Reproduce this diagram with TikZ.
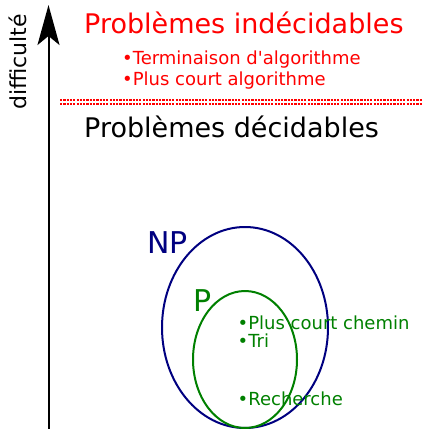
\documentclass[tikz,border=0pt]{standalone}
\usepackage{fontspec}
\setmainfont{DejaVu Sans}
\usetikzlibrary{arrows.meta,shapes.geometric}
\definecolor{navy}{RGB}{0,0,128}
\definecolor{dgreen}{RGB}{0,128,0}
\tikzset{
  big/.style={inner sep=0pt,anchor=base west,font=\fontsize{27}{32}\selectfont},
  small/.style={inner sep=0pt,anchor=base west,font=\fontsize{18}{21}\selectfont},
  setlabel/.style={inner sep=0pt,anchor=base west,font=\fontsize{30}{36}\selectfont},
  sep/.style={red,line width=2pt,dash pattern=on 2.2pt off 1.1pt},
  setshape/.style={ellipse,line width=2pt,inner sep=0pt},
}
\begin{document}
\begin{tikzpicture}[x=1pt,y=-1pt]
\useasboundingbox (0,0) rectangle (423,429);
% axis
\coordinate (abot) at (48.5,429);
\coordinate (atop) at (48.5,5);
\draw[line width=2pt,-{Stealth[length=40pt,width=22pt,inset=9pt]}] (abot) -- (atop);
\node[inner sep=0pt,anchor=base west,rotate=90,font=\fontsize{22}{27}\selectfont] (diff) at (27,110) {difficulté};
% undecidable
\node[big,red] (undec) at (84,33) {Problèmes indécidables};
\node[small,red] (u1) at (122,64) {•Terminaison d\textquotesingle algorithme};
\node[small,red] (u2) at (122,85) {•Plus court algorithme};
\coordinate (s1a) at (60,99.5);
\coordinate (s1b) at (423,99.5);
\coordinate (s2a) at (60,103.5);
\coordinate (s2b) at (423,103.5);
\draw[sep] (s1a) -- (s1b);
\draw[sep] (s2a) -- (s2b);
\node[big] (dec) at (84,137) {Problèmes décidables};
% sets
\node[setshape,draw=navy,minimum width=166pt,minimum height=201pt] (NPset) at (245,327.5) {};
\node[setshape,draw=dgreen,minimum width=104pt,minimum height=137pt] (Pset) at (245,359.5) {};
\node[setlabel,navy] (NP) at (147,253) {NP};
\node[setlabel,dgreen] (P) at (193,311) {P};
\node[small,dgreen] (p1) at (237.5,329) {•Plus court chemin};
\node[small,dgreen] (p2) at (237.5,347) {•Tri};
\node[small,dgreen] (p3) at (237.5,405) {•Recherche};
\end{tikzpicture}
\end{document}
